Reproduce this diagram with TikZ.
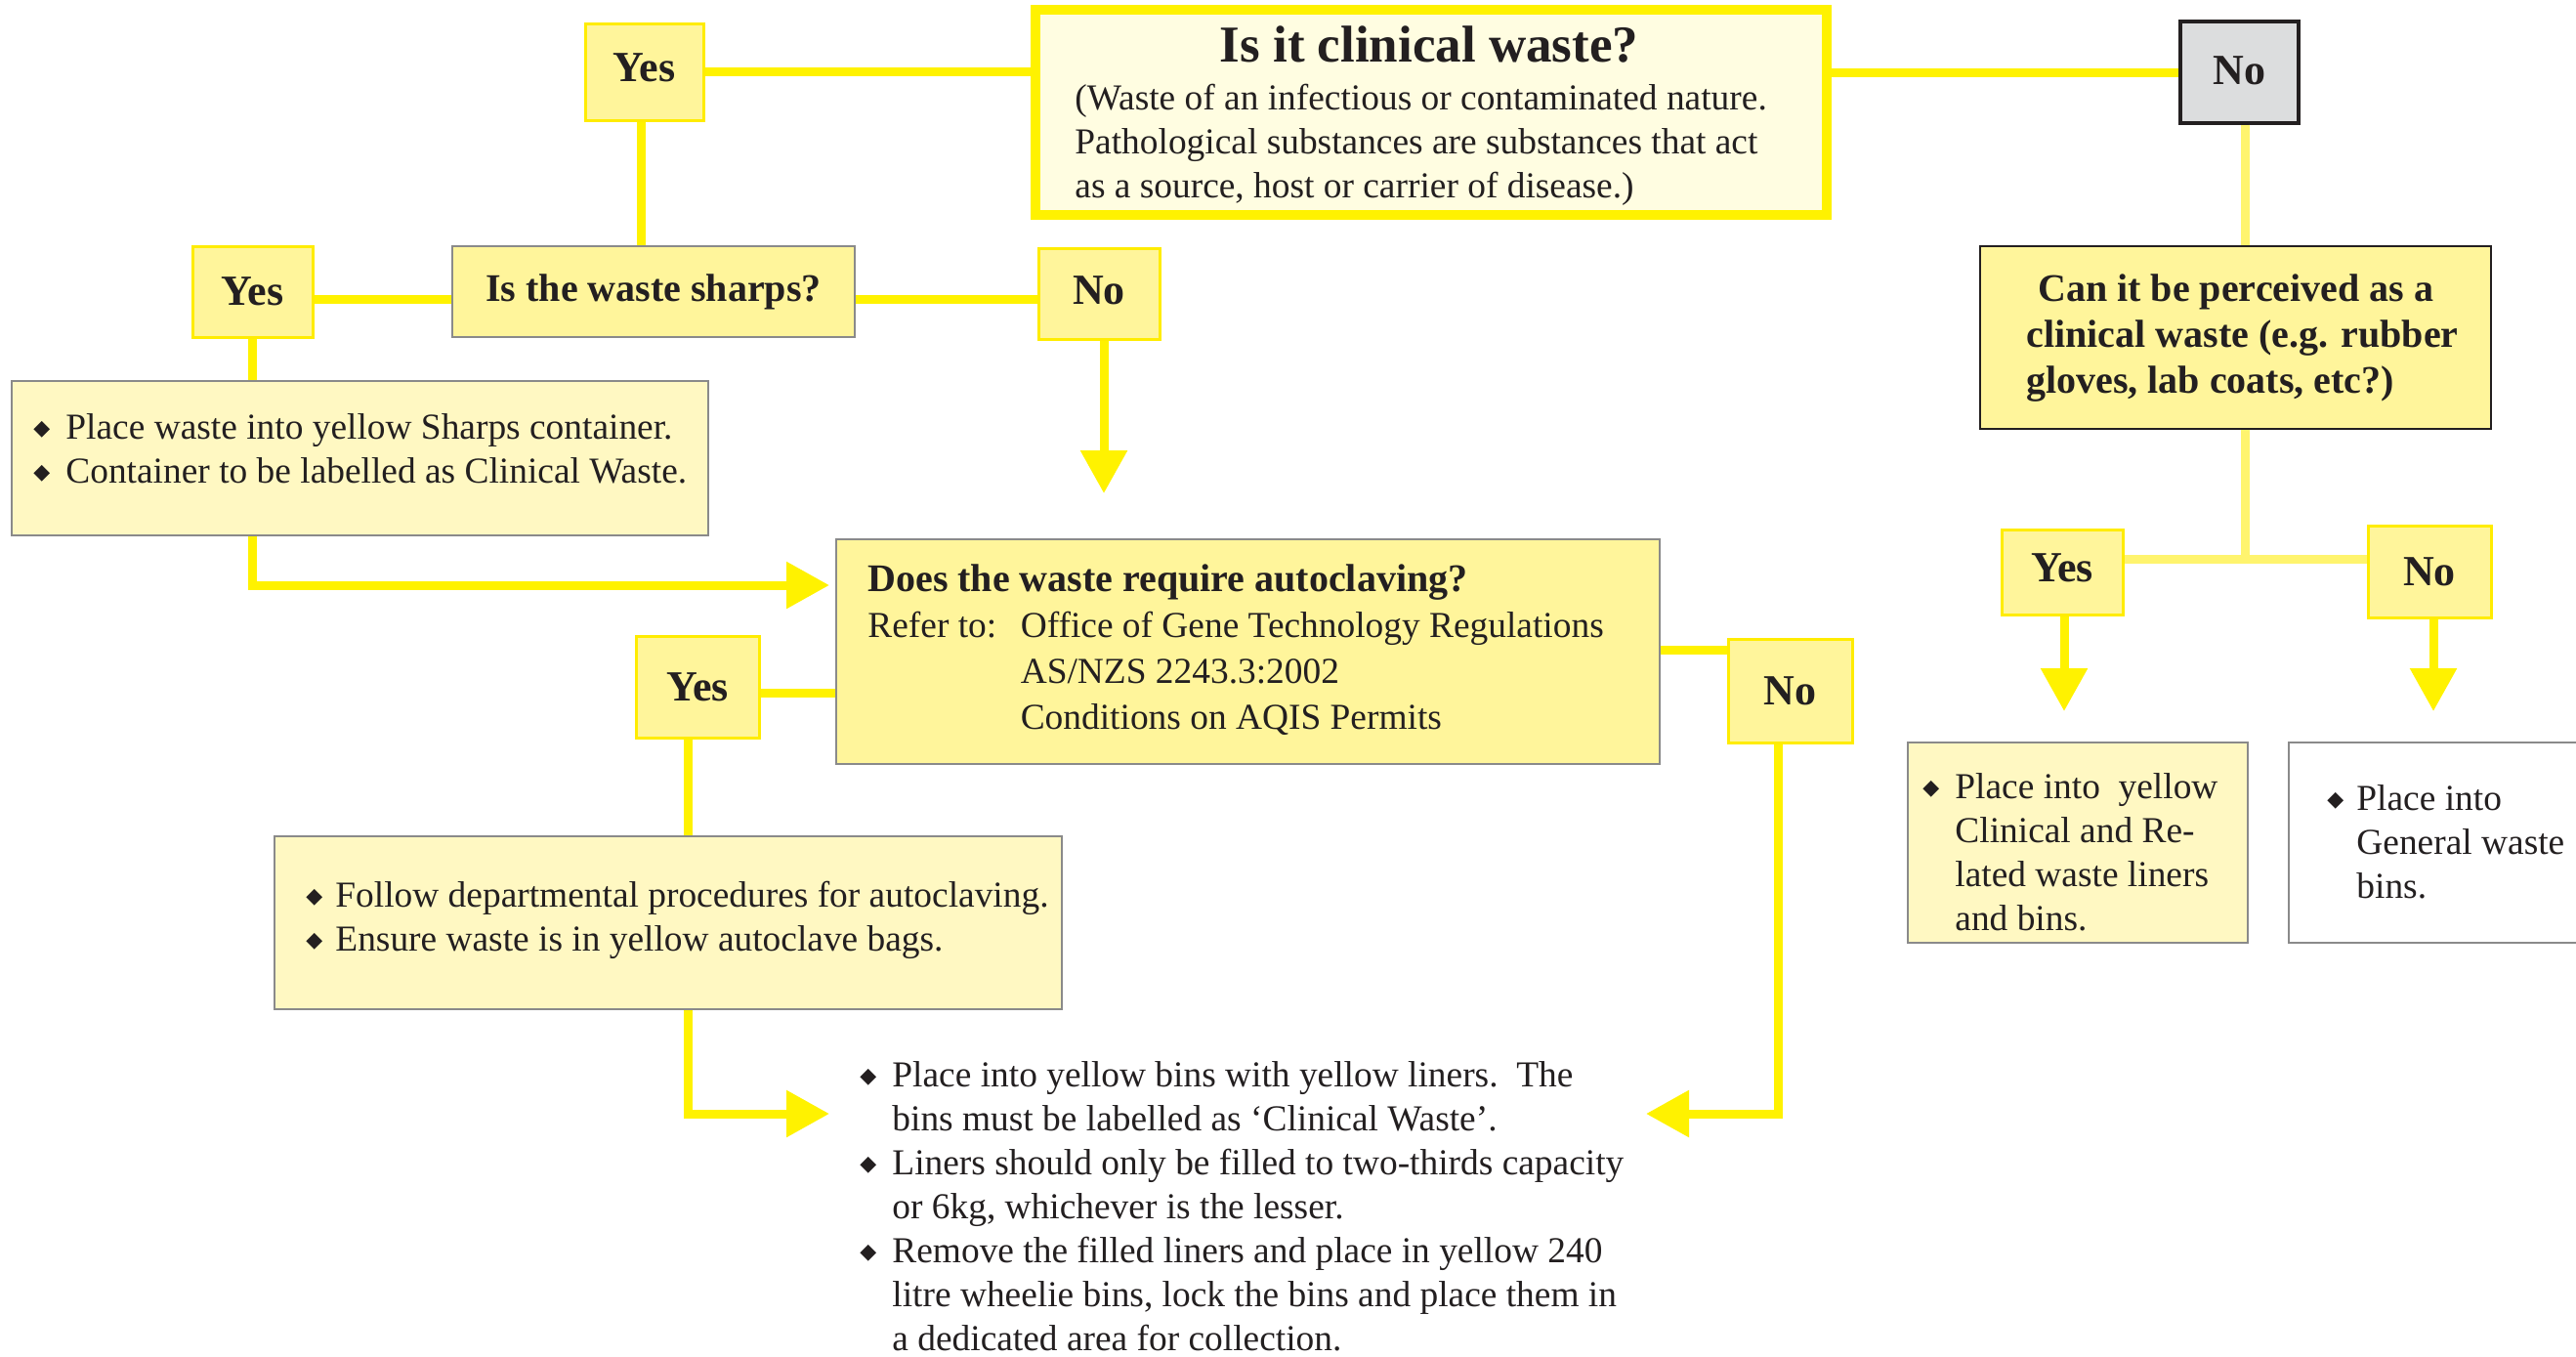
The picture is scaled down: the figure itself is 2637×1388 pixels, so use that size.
\documentclass[tikz,border=0pt]{standalone}
\usepackage{fontspec}
\setmainfont{Liberation Serif}
\newfontfamily\symf{DejaVu Sans}
\usetikzlibrary{arrows.meta}
\definecolor{lineY}{HTML}{FFF200}
\definecolor{paleY}{HTML}{FFF46E}
\definecolor{qfill}{HTML}{FFF59B}
\definecolor{afill}{HTML}{FFF8C2}
\definecolor{clinfill}{HTML}{FFFDE1}
\definecolor{ynB}{HTML}{FFEC00}
\definecolor{grayB}{HTML}{8A8A8A}
\definecolor{darkB}{HTML}{231F20}
\definecolor{noFill}{HTML}{DCDDDE}
\newcommand\mybulsym{\raisebox{0.1em}{\symf\fontsize{11}{11}\selectfont ◆}}
\newcommand\mybl{\makebox[16.5pt][l]{\mybulsym}}
\newcommand\myBody{\fontsize{18.7}{22.5}\selectfont}
\newcommand\myLab{\fontsize{20}{23.5}\selectfont\bfseries}
\newcommand\myYN{\fontsize{22}{26}\selectfont\bfseries}
\newcommand\myTitle{\fontsize{26.5}{30}\selectfont\bfseries}
\begin{document}
\begin{tikzpicture}[x=0.5pt,y=-0.5pt,
  every node/.style={inner sep=0pt, text=darkB},
  txt/.style={},
  clinbox/.style={draw=lineY, line width=5pt, fill=clinfill},
  yn/.style={draw=ynB, line width=1.5pt, fill=qfill, font=\myYN},
  ngray/.style={draw=darkB, line width=1.6pt, fill=noFill, font=\myYN},
  qbox/.style={draw=grayB, line width=1.2pt, fill=qfill},
  abox/.style={draw=grayB, line width=1.2pt, fill=afill},
  wbox/.style={draw=grayB, line width=1.2pt, fill=white},
  dbox/.style={draw=darkB, line width=1.4pt, fill=qfill},
  conn/.style={draw=lineY, line width=4.5pt},
  pconn/.style={draw=paleY, line width=4.5pt},
  arr/.style={conn, -{Triangle[width=23pt,length=22pt]}}]
\useasboundingbox (0,0) rectangle (2637,1388);

% ---- top clinical waste box
\node[clinbox, minimum width=405pt, minimum height=105pt] (clin) at (1465,115) {};
\node[txt, font=\myTitle] (clinT) at (1463,45) {Is it clinical waste?};
\node[txt, anchor=west, font=\myBody] (clinP) at (1100,148) {\begin{tabular}{@{}l@{}}(Waste of an infectious or contaminated nature.\\Pathological substances are substances that act\\as a source, host or carrier of disease.)\end{tabular}};

\node[yn, minimum width=60.5pt, minimum height=49.5pt, text depth=4pt] (yesA) at (659.5,73.5) {Yes};
\node[ngray, minimum width=60.5pt, minimum height=52pt, text depth=2pt] (noA) at (2292.5,74) {No};

% ---- sharps question
\node[qbox, minimum width=206pt, minimum height=46.5pt, font=\myLab] (sharpsQ) at (669,298.5) {Is the waste sharps?};
\node[yn, minimum width=61.5pt, minimum height=46.5pt] (yesB) at (258.5,298.5) {Yes};
\node[yn, minimum width=62pt, minimum height=46.5pt, text depth=3pt] (noB) at (1125,300.5) {No};

\node[abox, minimum width=356.5pt, minimum height=79pt] (sharpsA) at (368.5,469) {};
\node[txt, anchor=west, font=\myBody] (sharpsAT) at (34,463) {\begin{tabular}{@{}l@{}l@{}}\mybl & Place waste into yellow Sharps container.\\ \mybl & Container to be labelled as Clinical Waste.\end{tabular}};

% ---- autoclave question
\node[qbox, minimum width=421.5pt, minimum height=115pt] (auto) at (1277.5,667) {};
\node[txt, anchor=west, font={\fontsize{18.7}{23.5}\selectfont}] (autoT) at (888,667) {\begin{tabular}{@{}l@{}}{\fontsize{20}{23.5}\selectfont\bfseries Does the waste require autoclaving?}\\Refer to:\hspace{6pt} Office of Gene Technology Regulations\\\phantom{Refer to:\hspace{6pt} }AS/NZS 2243.3:2002\\\phantom{Refer to:\hspace{6pt} }Conditions on AQIS Permits\end{tabular}};
\node[yn, minimum width=63pt, minimum height=52pt] (yesC) at (714,703) {Yes};
\node[yn, minimum width=63.5pt, minimum height=53pt] (noC) at (1832.5,707) {No};

\node[abox, minimum width=403pt, minimum height=88.5pt] (follow) at (684,944.5) {};
\node[txt, anchor=west, font=\myBody] (followT) at (313,942) {\begin{tabular}{@{}l@{}l@{}}\makebox[15pt][l]{\mybulsym} & Follow departmental procedures for autoclaving.\\ \makebox[15pt][l]{\mybulsym} & Ensure waste is in yellow autoclave bags.\end{tabular}};

% ---- bottom instructions
\node[txt, anchor=west, font=\myBody] (binsT) at (880,1238) {\begin{tabular}{@{}l@{}l@{}}\mybl & Place into yellow bins with yellow liners.\ \ The\\ & bins must be labelled as `Clinical Waste'.\\ \mybl & Liners should only be filled to two-thirds capacity\\ & or 6kg, whichever is the lesser.\\ \mybl & Remove the filled liners and place in yellow 240\\ & litre wheelie bins, lock the bins and place them in\\ & a dedicated area for collection.\end{tabular}};

% ---- right branch
\node[dbox, minimum width=261.5pt, minimum height=93.5pt] (can) at (2288.5,345.5) {};
\node[txt, anchor=west, font=\myLab] (canT) at (2074,346) {\begin{tabular}{@{}l@{}}\hspace*{6pt}Can it be perceived as a\\clinical waste (e.g. rubber\\gloves, lab coats, etc?)\end{tabular}};
\node[yn, minimum width=62pt, minimum height=43.5pt, text depth=4pt] (yesD) at (2111,585.5) {Yes};
\node[yn, minimum width=63pt, minimum height=47pt] (noD) at (2487,585) {No};

\node[abox, minimum width=174pt, minimum height=102.5pt] (clinbin) at (2127,862.5) {};
\node[txt, anchor=west, font=\myBody] (clinbinT) at (1968,876) {\begin{tabular}{@{}l@{}l@{}}\mybl & Place into\ \ yellow\\ & Clinical and Re-\\ & lated waste liners\\ & and bins.\end{tabular}};
\node[wbox, minimum width=168.5pt, minimum height=102.5pt] (genbin) at (2511.5,862.5) {};
\node[txt, anchor=west, font=\myBody] (genbinT) at (2382,865) {\begin{tabular}{@{}l@{}l@{}}\makebox[15pt][l]{\mybulsym} & Place into\\ & General waste\\ & bins.\end{tabular}};

% ---- free ends of arrows
\coordinate (tipNoB) at (1130,505);
\coordinate (tipSh) at (849,599);
\coordinate (tipFo) at (849,1140);
\coordinate (tipNoC) at (1685,1140);
\coordinate (jct) at (2298,572);
\coordinate (tipYesD) at (2113,728);
\coordinate (tipNoD) at (2491,728);

% ---- connectors
\draw[conn] (yesA.east) -- (yesA.east -| clin.west);
\draw[conn] (noA.west -| clin.east) -- (noA.west);
\draw[conn] ([xshift=-1.5pt]yesA.south) -- ([xshift=-1.5pt]yesA.south |- sharpsQ.north);
\draw[conn] ([yshift=-4pt]sharpsQ.west) -- ([yshift=-4pt]sharpsQ.west -| yesB.east);
\draw[conn] ([yshift=-4pt]sharpsQ.east) -- ([yshift=-4pt]sharpsQ.east -| noB.west);
\draw[arr] (noB.south -| tipNoB) -- (tipNoB);
\draw[conn] (yesB.south) -- (yesB.south |- sharpsA.north);
\draw[arr] (yesB.south |- sharpsA.south) |- (tipSh);
\draw[conn] ([yshift=-3pt]yesC.east) -- ([yshift=-3pt]yesC.east -| auto.west);
\draw[conn] ([yshift=1pt]auto.east) -- ([yshift=1pt]auto.east -| noC.west);
\draw[conn] ([xshift=-5pt]yesC.south) -- ([xshift=-5pt]yesC.south |- follow.north);
\draw[arr] ([xshift=-5pt]yesC.south |- follow.south) |- (tipFo);
\draw[arr] ([xshift=-6pt]noC.south) |- (tipNoC);
\draw[pconn] (noA.south -| jct) -- (can.north -| jct);
\draw[pconn] (can.south -| jct) -- (jct);
\draw[pconn] (yesD.east |- jct) -- (noD.west |- jct);
\draw[arr] (yesD.south -| tipYesD) -- (tipYesD);
\draw[arr] (noD.south -| tipNoD) -- (tipNoD);
\end{tikzpicture}
\end{document}
